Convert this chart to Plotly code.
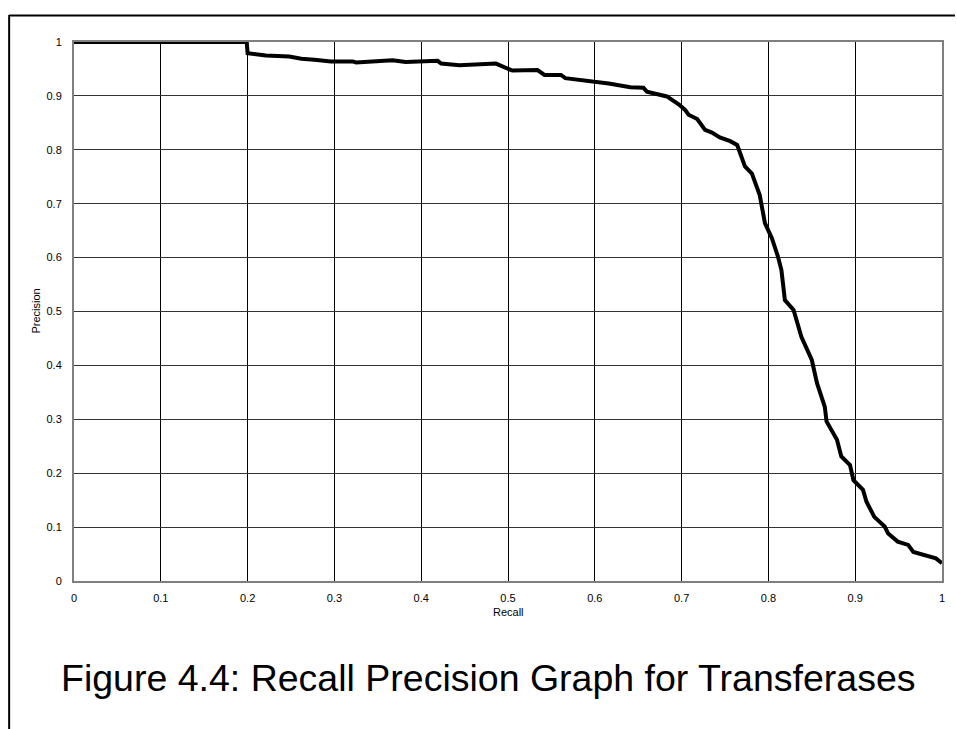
import plotly.graph_objects as go

# Recall / precision curve for the transferase classifier
recall = [0.0, 0.199, 0.2, 0.221, 0.248, 0.262, 0.277, 0.296, 0.321, 0.325, 0.367, 0.382,
          0.419, 0.423, 0.444, 0.486, 0.505, 0.534, 0.542, 0.561, 0.566, 0.601, 0.616,
          0.641, 0.656, 0.660, 0.683, 0.697, 0.704, 0.708, 0.718, 0.727, 0.735, 0.744,
          0.756, 0.764, 0.773, 0.781, 0.790, 0.796, 0.804, 0.811, 0.815, 0.819, 0.829,
          0.838, 0.850, 0.856, 0.865, 0.867, 0.879, 0.884, 0.894, 0.898, 0.909, 0.913,
          0.922, 0.934, 0.938, 0.949, 0.961, 0.967, 0.980, 0.993, 1.0]
precision = [1.0, 1.0, 0.979, 0.975, 0.973, 0.969, 0.967, 0.964, 0.964, 0.962, 0.966, 0.963,
             0.965, 0.960, 0.957, 0.960, 0.947, 0.948, 0.939, 0.939, 0.933, 0.927, 0.923,
             0.916, 0.915, 0.908, 0.899, 0.884, 0.874, 0.865, 0.857, 0.837, 0.832, 0.823,
             0.816, 0.809, 0.769, 0.756, 0.716, 0.664, 0.636, 0.602, 0.577, 0.521, 0.503,
             0.453, 0.410, 0.367, 0.323, 0.296, 0.262, 0.231, 0.215, 0.187, 0.169, 0.147,
             0.119, 0.101, 0.088, 0.073, 0.067, 0.054, 0.048, 0.042, 0.033]

tick_vals = [round(0.1 * i, 1) for i in range(11)]
tick_text = ["0"] + [f"{v:g}" for v in tick_vals[1:-1]] + ["1"]

caption = "Figure 4.4: Recall Precision Graph for Transferases"

W, H = 957, 729
L, R, T, B = 74, 13, 42, 148
pw, ph = W - L - R, H - T - B

def px_x(px):
    return (px - L) / pw

def px_y(py):
    return (H - B - py) / ph

font = "Arial, Liberation Sans, sans-serif"

fig = go.Figure()
fig.add_trace(go.Scatter(
    x=recall, y=precision, mode="lines",
    line=dict(color="black", width=4, shape="linear"),
    hoverinfo="skip", showlegend=False,
))

fig.update_layout(
    width=W, height=H,
    margin=dict(l=L, r=R, t=T, b=B, pad=0),
    paper_bgcolor="white", plot_bgcolor="white",
    font=dict(family=font, size=11, color="black"),
    xaxis=dict(range=[0, 1], tickvals=tick_vals, ticktext=tick_text,
               showgrid=True, gridcolor="black", gridwidth=1,
               zeroline=False, showline=True, linecolor="#808080", linewidth=2,
               mirror=True, ticks="", ticklabelstandoff=6,
               tickfont=dict(family=font, size=11)),
    yaxis=dict(range=[0, 1], tickvals=tick_vals, ticktext=tick_text,
               showgrid=True, gridcolor="#333333", gridwidth=1,
               zeroline=False, showline=True, linecolor="#808080", linewidth=2,
               mirror=True, ticks="", ticklabelstandoff=8,
               tickfont=dict(family=font, size=11)),
    shapes=[
        # page frame: top rule and left rule
        dict(type="line", xref="paper", yref="paper",
             x0=px_x(9), x1=px_x(957), y0=px_y(15.5), y1=px_y(15.5),
             line=dict(color="black", width=2)),
        dict(type="line", xref="paper", yref="paper",
             x0=px_x(9), x1=px_x(9), y0=px_y(15), y1=px_y(729),
             line=dict(color="black", width=2)),
    ],
    annotations=[
        dict(text="Recall", xref="paper", yref="paper", x=0.5, y=px_y(612),
             showarrow=False, font=dict(family=font, size=11), yanchor="middle"),
        dict(text="Precision", xref="paper", yref="paper", x=px_x(35), y=0.5,
             showarrow=False, textangle=-90, font=dict(family=font, size=11),
             xanchor="center", yanchor="middle"),
        dict(text=caption, xref="paper", yref="paper", x=px_x(489), y=px_y(678),
             showarrow=False, font=dict(family=font, size=37.5), xanchor="center",
             yanchor="middle"),
    ],
)

fig.write_html("out.html")
